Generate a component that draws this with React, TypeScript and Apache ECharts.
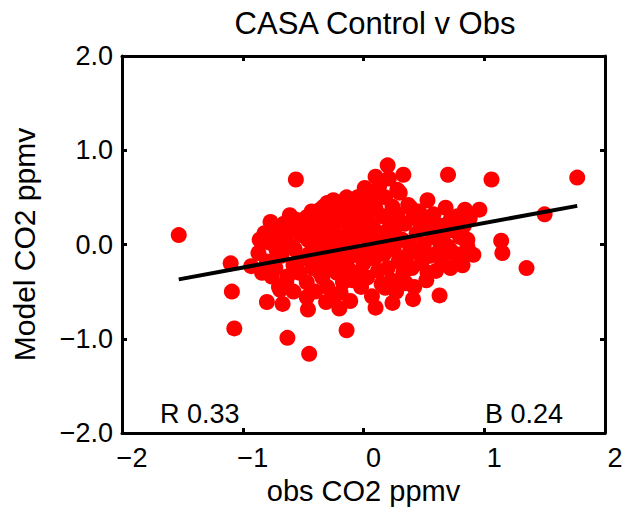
import React, { useEffect, useRef } from "react";
import * as echarts from "echarts";

const titleText = "CASA Control v Obs";
const xName = "obs CO2 ppmv";
const yName = "Model CO2 ppmv";
const xTickValues = [-2, -1, 0, 1, 2];
const xTickLabels = ["\u22122", "\u22121", "0", "1", "2"];
const yTickValues = [-2, -1, 0, 1, 2];
const yTickLabels = ["\u22122.0", "\u22121.0", "0.0", "1.0", "2.0"];
const statR = "R 0.33";
const statB = "B 0.24";

// scattered (outer) observations: [obs, model]
const outerPoints: number[][] = [
  [-1.53, 0.10], [-0.56, 0.69], [-1.10, -0.20], [-1.09, -0.50], [-1.07, -0.89],
  [-0.63, -0.99], [-0.45, -1.16], [-0.14, -0.91], [-0.93, -0.23], [-0.80, -0.61],
  [-0.67, -0.63], [-0.46, -0.69], [-0.31, -0.61], [-0.20, -0.68], [0.10, -0.67],
  [0.10, 0.72], [1.77, 0.71], [1.06, 0.69], [0.70, 0.74], [0.20, 0.84],
  [0.33, 0.74], [1.50, 0.32], [1.35, -0.25], [1.14, 0.04], [1.15, -0.09],
  [0.96, 0.37], [0.84, 0.37], [0.86, 0.05], [0.91, -0.11], [0.82, -0.22],
  [0.63, -0.54], [0.41, -0.58], [0.24, -0.62], [0.18, -0.46], [0.35, -0.41],
  [0.53, -0.30], [0.53, 0.47], [0.68, 0.39], [0.72, -0.06], [0.61, -0.09],
  [-0.86, 0.05], [-0.87, -0.09], [-0.77, 0.24], [-0.61, 0.31], [-0.72, -0.06],
  [-0.76, -0.34], [-0.63, -0.34], [-0.69, -0.48], [-0.47, 0.29], [-0.30, 0.44],
  [-0.14, 0.50], [-0.47, -0.56], [-0.36, -0.30], [-0.19, -0.51], [-0.09, -0.38],
  [0.08, 0.55], [0.28, 0.58], [0.39, 0.39], [0.61, 0.19], [0.72, 0.26],
  [0.80, 0.08], [-0.25, 0.47], [-0.36, 0.37], [0.00, 0.47], [0.03, 0.55],
];

// dense central cloud: [obs, model]
const cloudPoints: number[][] = [
  [-0.82, 0.12], [-0.80, -0.18], [-0.78, 0.02], [-0.75, 0.18], [-0.73, -0.25],
  [-0.70, 0.08], [-0.68, -0.12], [-0.66, 0.22], [-0.64, -0.40], [-0.62, 0.00],
  [-0.60, 0.15], [-0.58, -0.22], [-0.57, -0.05], [-0.55, 0.26], [-0.53, -0.30],
  [-0.52, 0.10], [-0.50, -0.15], [-0.84, -0.30], [-0.70, -0.45], [-0.58, -0.50],
  [-0.48, 0.20], [-0.47, -0.40], [-0.46, 0.05], [-0.45, -0.10], [-0.43, 0.35],
  [-0.42, -0.25], [-0.41, 0.15], [-0.40, -0.50], [-0.39, 0.00], [-0.38, 0.28],
  [-0.37, -0.18], [-0.35, 0.10], [-0.34, -0.35], [-0.33, 0.40], [-0.32, -0.05],
  [-0.31, 0.22], [-0.30, -0.45], [-0.29, 0.05], [-0.28, -0.25], [-0.27, 0.32],
  [-0.26, -0.12], [-0.25, 0.15], [-0.24, -0.55], [-0.23, 0.45], [-0.22, -0.30],
  [-0.21, 0.02], [-0.20, 0.25], [-0.19, -0.18], [-0.18, 0.38], [-0.17, -0.40],
  [-0.16, 0.08], [-0.15, -0.05], [-0.14, 0.30], [-0.13, -0.25], [-0.12, 0.18],
  [-0.11, -0.60], [-0.10, 0.42], [-0.10, -0.12], [-0.08, 0.05], [-0.07, 0.28],
  [-0.06, -0.30], [-0.05, 0.50], [-0.04, -0.08], [-0.03, 0.15], [-0.02, -0.45],
  [-0.01, 0.35], [0.00, -0.20], [0.01, 0.60], [0.02, 0.08], [0.03, -0.35],
  [0.04, 0.25], [0.05, -0.05], [0.06, 0.45], [0.07, -0.55], [0.08, 0.18],
  [0.09, -0.15], [0.10, 0.38], [0.11, 0.00], [0.12, -0.28], [0.13, 0.62],
  [0.14, 0.12], [0.15, -0.42], [0.16, 0.30], [0.17, -0.10], [0.18, 0.50],
  [0.19, 0.05], [0.20, -0.25], [0.21, 0.70], [0.22, 0.20], [0.23, -0.38],
  [0.24, 0.40], [0.25, -0.05], [0.26, 0.10], [0.27, -0.50], [0.28, 0.32],
  [0.29, -0.18], [0.30, 0.55], [0.32, 0.05], [0.33, -0.30], [0.34, 0.22],
  [0.36, -0.12], [0.37, 0.42], [0.38, 0.00], [0.40, -0.25], [0.41, 0.28],
  [0.42, -0.45], [0.44, 0.12], [0.45, -0.08], [0.46, 0.35], [0.48, -0.20],
  [0.49, 0.18], [0.50, 0.00], [0.52, -0.38], [0.53, 0.25], [0.55, -0.12],
  [0.57, 0.08], [0.58, 0.32], [0.60, -0.28], [0.62, 0.05], [0.64, 0.20],
  [0.65, -0.18], [0.67, 0.12], [0.70, -0.02], [0.72, -0.25], [0.74, 0.15],
  [0.76, -0.10], [0.78, 0.30], [0.80, -0.15], [0.83, 0.20], [0.86, -0.02],
  [0.88, 0.28],
];

// regression fit endpoints
const fitLine: number[][] = [
  [-1.53, -0.37],
  [1.77, 0.41],
];

const FONT = "Liberation Sans, Arial, Helvetica, sans-serif";

export default function App() {
  const ref = useRef<HTMLDivElement>(null);

  useEffect(() => {
    if (!ref.current) return;
    const chart = echarts.init(ref.current, undefined, { renderer: "svg" });

    const axisLine = { show: true, onZero: false, lineStyle: { color: "#000", width: 3 } };
    const axisTick = { show: true, inside: true, length: 5, lineStyle: { color: "#000", width: 3 } };

    const xLabel = (v: number) => {
      const i = xTickValues.indexOf(Math.round(v));
      return i >= 0 ? xTickLabels[i] : "";
    };
    const yLabel = (v: number) => {
      const i = yTickValues.indexOf(Math.round(v));
      return i >= 0 ? yTickLabels[i] : "";
    };

    chart.setOption({
      animation: false,
      backgroundColor: "#fff",
      title: {
        text: titleText,
        left: 370,
        textAlign: "center",
        top: 3,
        textStyle: { fontFamily: FONT, fontSize: 31, fontWeight: "normal", color: "#000" },
      },
      grid: { left: 122, right: 30, top: 56, bottom: 80 },
      xAxis: [
        {
          type: "value",
          min: -2,
          max: 2,
          interval: 1,
          position: "bottom",
          name: xName,
          nameLocation: "middle",
          nameGap: 43,
          nameTextStyle: { fontFamily: FONT, fontSize: 29, color: "#000" },
          axisLine,
          axisTick,
          splitLine: { show: false },
          axisLabel: {
            formatter: xLabel,
            margin: 11,
            padding: [0, 0, 0, 20],
            fontFamily: FONT,
            fontSize: 27,
            color: "#000",
          },
        },
        {
          type: "value",
          min: -2,
          max: 2,
          interval: 1,
          position: "top",
          axisLine,
          axisTick,
          splitLine: { show: false },
          axisLabel: { show: false },
        },
      ],
      yAxis: [
        {
          type: "value",
          min: -2,
          max: 2,
          interval: 1,
          position: "left",
          name: yName,
          nameLocation: "middle",
          nameGap: 83,
          nameTextStyle: { fontFamily: FONT, fontSize: 30, color: "#000" },
          axisLine,
          axisTick,
          splitLine: { show: false },
          axisLabel: {
            formatter: yLabel,
            margin: 9,
            fontFamily: FONT,
            fontSize: 27,
            color: "#000",
          },
        },
        {
          type: "value",
          min: -2,
          max: 2,
          interval: 1,
          position: "right",
          axisLine,
          axisTick,
          splitLine: { show: false },
          axisLabel: { show: false },
        },
      ],
      graphic: [
        {
          type: "text",
          left: 160,
          top: 400,
          style: { text: statR, fontFamily: FONT, fontSize: 27, fill: "#000" },
        },
        {
          type: "text",
          left: 485,
          top: 400,
          style: { text: statB, fontFamily: FONT, fontSize: 27, fill: "#000" },
        },
      ],
      series: [
        {
          type: "scatter",
          data: outerPoints,
          symbol: "circle",
          symbolSize: 16,
          itemStyle: { color: "#ff0000", opacity: 1 },
          z: 2,
        },
        {
          type: "scatter",
          data: cloudPoints,
          symbol: "circle",
          symbolSize: 16,
          itemStyle: { color: "#ff0000", opacity: 1 },
          z: 2,
        },
        {
          type: "line",
          data: fitLine,
          symbol: "none",
          lineStyle: { color: "#000", width: 4 },
          z: 5,
        },
      ],
    });

    return () => chart.dispose();
  }, []);

  return (
    <div
      ref={ref}
      style={{ position: "fixed", left: 0, top: 0, width: 635, height: 513, background: "#fff" }}
    />
  );
}
